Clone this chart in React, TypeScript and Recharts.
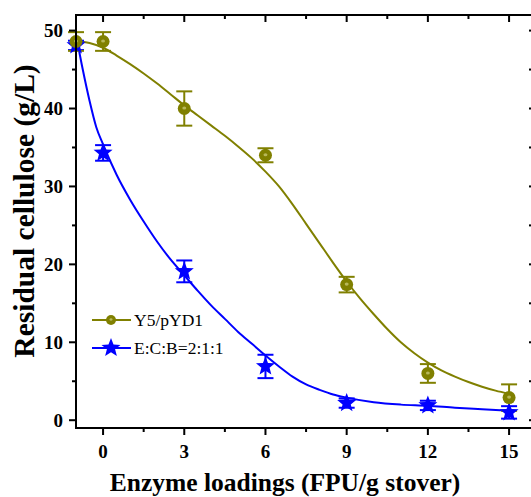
import React from 'react';
import { ComposedChart, Line, Scatter, XAxis, YAxis, ErrorBar } from 'recharts';

// enzyme loading (FPU/g stover)
const loadings = [-1, 0, 3, 6, 9, 12, 15];
const y5Mean = [48.6, 48.6, 40.0, 34.0, 17.4, 6.0, 2.9];
const y5Err = [1.2, 1.2, 2.2, 0.9, 1.0, 1.2, 1.7];
const ecbMean = [48.1, 34.3, 19.1, 6.9, 2.2, 1.9, 1.0];
const ecbErr = [0.6, 1.0, 1.4, 1.5, 0.6, 0.6, 0.8];

// fitted curves
const y5FitX = [-1, -0.5, 0, 0.5, 1, 1.5, 2, 2.5, 3, 3.5, 4, 4.5, 5, 5.5, 6, 6.5, 7, 7.5, 8, 8.5, 9, 9.5, 10, 10.5, 11, 11.5, 12, 12.5, 13, 13.5, 14, 14.5, 15];
const y5FitY = [48.7, 48.4, 47.8, 46.8, 45.7, 44.5, 43.2, 41.8, 40.4, 39.1, 37.8, 36.5, 35.1, 33.6, 31.9, 30.0, 27.7, 25.2, 22.7, 20.2, 17.8, 15.6, 13.6, 11.7, 10.0, 8.6, 7.4, 6.4, 5.6, 4.9, 4.3, 3.8, 3.4];
const ecbFitX = [-1, -0.75, -0.5, -0.25, 0, 0.5, 1, 1.5, 2, 2.5, 3, 3.5, 4, 4.5, 5, 5.5, 6, 6.5, 7, 7.5, 8, 8.5, 9, 10, 11, 12, 13, 14, 15];
const ecbFitY = [49.5, 45.0, 41.0, 37.6, 35.4, 31.5, 28.3, 25.5, 22.9, 20.6, 18.6, 16.6, 14.7, 13.0, 11.3, 9.8, 8.3, 6.9, 5.6, 4.6, 3.9, 3.3, 2.9, 2.3, 2.0, 1.85, 1.6, 1.4, 1.2];

const xTicks = [0, 1.5, 3, 4.5, 6, 7.5, 9, 10.5, 12, 13.5, 15];
const yTicks = [0, 5, 10, 15, 20, 25, 30, 35, 40, 45, 50];
// right edge of the frame falls just past the picture
const X_MIN = -1;
const X_MAX = 15.81;
const Y_MIN = -1;
const Y_MAX = 52;

const OLIVE = '#808000';
const BLUE = '#0000ff';
const FONT = '"Liberation Serif", "Times New Roman", serif';

// plot box in page pixels (chart margins below give the same box)
const LEFT = 76;
const RIGHT = 531;
const TOP = 15;
const BOTTOM = 428;
const sx = (v: number) => LEFT + ((v - X_MIN) / (X_MAX - X_MIN)) * (RIGHT - LEFT);
const sy = (v: number) => TOP + ((Y_MAX - v) / (Y_MAX - Y_MIN)) * (BOTTOM - TOP);

const y5Points = loadings.map((x, i) => ({ x, y: y5Mean[i], err: y5Err[i] }));
const ecbPoints = loadings.map((x, i) => ({ x, y: ecbMean[i], err: ecbErr[i] }));
const y5Fit = y5FitX.map((x, i) => ({ x, y: y5FitY[i] }));
const ecbFit = ecbFitX.map((x, i) => ({ x, y: ecbFitY[i] }));

const isMajorX = (v: number) => Math.abs(v % 3) < 1e-6;
const isMajorY = (v: number) => Math.abs(v % 10) < 1e-6;

const BottomTick = (props: any) => {
    const { x, y, payload } = props;
    if (!isMajorX(payload.value)) return <g />;
    return (
        <text x={x} y={y + 30} textAnchor="middle" fontFamily={FONT} fontWeight="bold" fontSize={19} fill="#000">
            {payload.value}
        </text>
    );
};

const LeftTick = (props: any) => {
    const { x, y, payload } = props;
    if (!isMajorY(payload.value)) return <g />;
    return (
        <text x={x - 13} y={y + 6.5} textAnchor="end" fontFamily={FONT} fontWeight="bold" fontSize={19} fill="#000">
            {payload.value}
        </text>
    );
};

const Ball = ({ cx, cy, r = 6.5 }: any) => (
    <g>
        <circle cx={cx} cy={cy} r={r} fill={OLIVE} />
        <ellipse cx={cx} cy={cy - 0.5} rx={r * 0.3} ry={r * 0.24} fill="#b8b85a" />
    </g>
);

const starPoints = (cx: number, cy: number, R: number, r: number) => {
    const pts: string[] = [];
    for (let i = 0; i < 10; i++) {
        const rad = i % 2 === 0 ? R : r;
        const a = -Math.PI / 2 + (i * Math.PI) / 5;
        pts.push(`${cx + rad * Math.cos(a)},${cy + rad * Math.sin(a)}`);
    }
    return pts.join(' ');
};

const Star = ({ cx, cy }: any) => <polygon points={starPoints(cx, cy, 10, 4.3)} fill={BLUE} />;

// frame, tick marks, titles and legend, drawn on top of the chart
const Overlay = () => (
    <svg width={531} height={497} style={{ position: 'absolute', left: 0, top: 0, pointerEvents: 'none', zIndex: 5 }}>
        <rect x={LEFT - 1} y={TOP - 1} width={2} height={BOTTOM - TOP + 2} fill="#000" />
        <rect x={LEFT - 1} y={BOTTOM - 1} width={RIGHT - LEFT + 1} height={2} fill="#000" />
        <rect x={LEFT - 1} y={TOP - 1} width={RIGHT - LEFT + 1} height={2} fill="#000" />
        {xTicks.map((t) => (
            <g key={`x-${t}`}>
                <rect x={sx(t) - 1} y={BOTTOM} width={2} height={isMajorX(t) ? 7 : 4} fill="#000" />
                <rect x={sx(t) - 1} y={TOP} width={2} height={isMajorX(t) ? 7 : 4} fill="#000" />
            </g>
        ))}
        {yTicks.map((t) => (
            <g key={`y-${t}`}>
                <rect x={LEFT - (isMajorY(t) ? 7 : 4)} y={sy(t) - 1} width={isMajorY(t) ? 7 : 4} height={2} fill="#000" />
                <rect x={RIGHT - 2} y={sy(t) - 1} width={2} height={2} fill="#000" />
            </g>
        ))}
        <text x={285} y={491} textAnchor="middle" fontFamily={FONT} fontWeight="bold" fontSize={25.5} fill="#000">
            Enzyme loadings (FPU/g stover)
        </text>
        <text transform="translate(34, 211) rotate(-90)" textAnchor="middle" fontFamily={FONT} fontWeight="bold" fontSize={29.5} fill="#000">
            Residual cellulose (g/L)
        </text>
        <g transform="translate(88, 305)">
            <line x1={4} x2={43} y1={15} y2={15} stroke={OLIVE} strokeWidth={2} />
            <Ball cx={23} cy={15} r={5} />
            <text x={46} y={21} fontFamily={FONT} fontSize={17.5} fill="#000">Y5/pYD1</text>
            <line x1={4} x2={43} y1={43} y2={43} stroke={BLUE} strokeWidth={2} />
            <polygon points={starPoints(23, 43, 10, 4.3)} fill={BLUE} />
            <text x={46} y={49} fontFamily={FONT} fontSize={17.5} fill="#000">E:C:B=2:1:1</text>
        </g>
    </svg>
);

const App: React.FC = () => {
    return (
        <div style={{ position: 'absolute', left: 0, top: 0, width: 531, height: 497, overflow: 'hidden', background: '#fff' }}>
            <ComposedChart width={531} height={497} margin={{ top: TOP, right: 531 - RIGHT, bottom: 0, left: 0 }}>
                <XAxis
                    type="number"
                    dataKey="x"
                    domain={[X_MIN, X_MAX]}
                    ticks={xTicks}
                    interval={0}
                    height={497 - BOTTOM}
                    tickSize={0}
                    tickMargin={0}
                    tickLine={false}
                    tick={<BottomTick />}
                    axisLine={false}
                />
                <YAxis
                    type="number"
                    domain={[Y_MIN, Y_MAX]}
                    ticks={yTicks}
                    interval={0}
                    width={LEFT}
                    tickSize={0}
                    tickMargin={0}
                    tickLine={false}
                    tick={<LeftTick />}
                    axisLine={false}
                />
                <Line data={ecbFit} dataKey="y" type="monotone" stroke={BLUE} strokeWidth={2} dot={false} isAnimationActive={false} />
                <Line data={y5Fit} dataKey="y" type="monotone" stroke={OLIVE} strokeWidth={2} dot={false} isAnimationActive={false} />
                <Scatter data={ecbPoints} dataKey="y" shape={<Star />} isAnimationActive={false}>
                    <ErrorBar dataKey="err" direction="y" width={8} stroke={BLUE} strokeWidth={2} />
                </Scatter>
                <Scatter data={y5Points} dataKey="y" shape={<Ball />} isAnimationActive={false}>
                    <ErrorBar dataKey="err" direction="y" width={8} stroke={OLIVE} strokeWidth={2} />
                </Scatter>
            </ComposedChart>
            <Overlay />
        </div>
    );
};

export default App;
